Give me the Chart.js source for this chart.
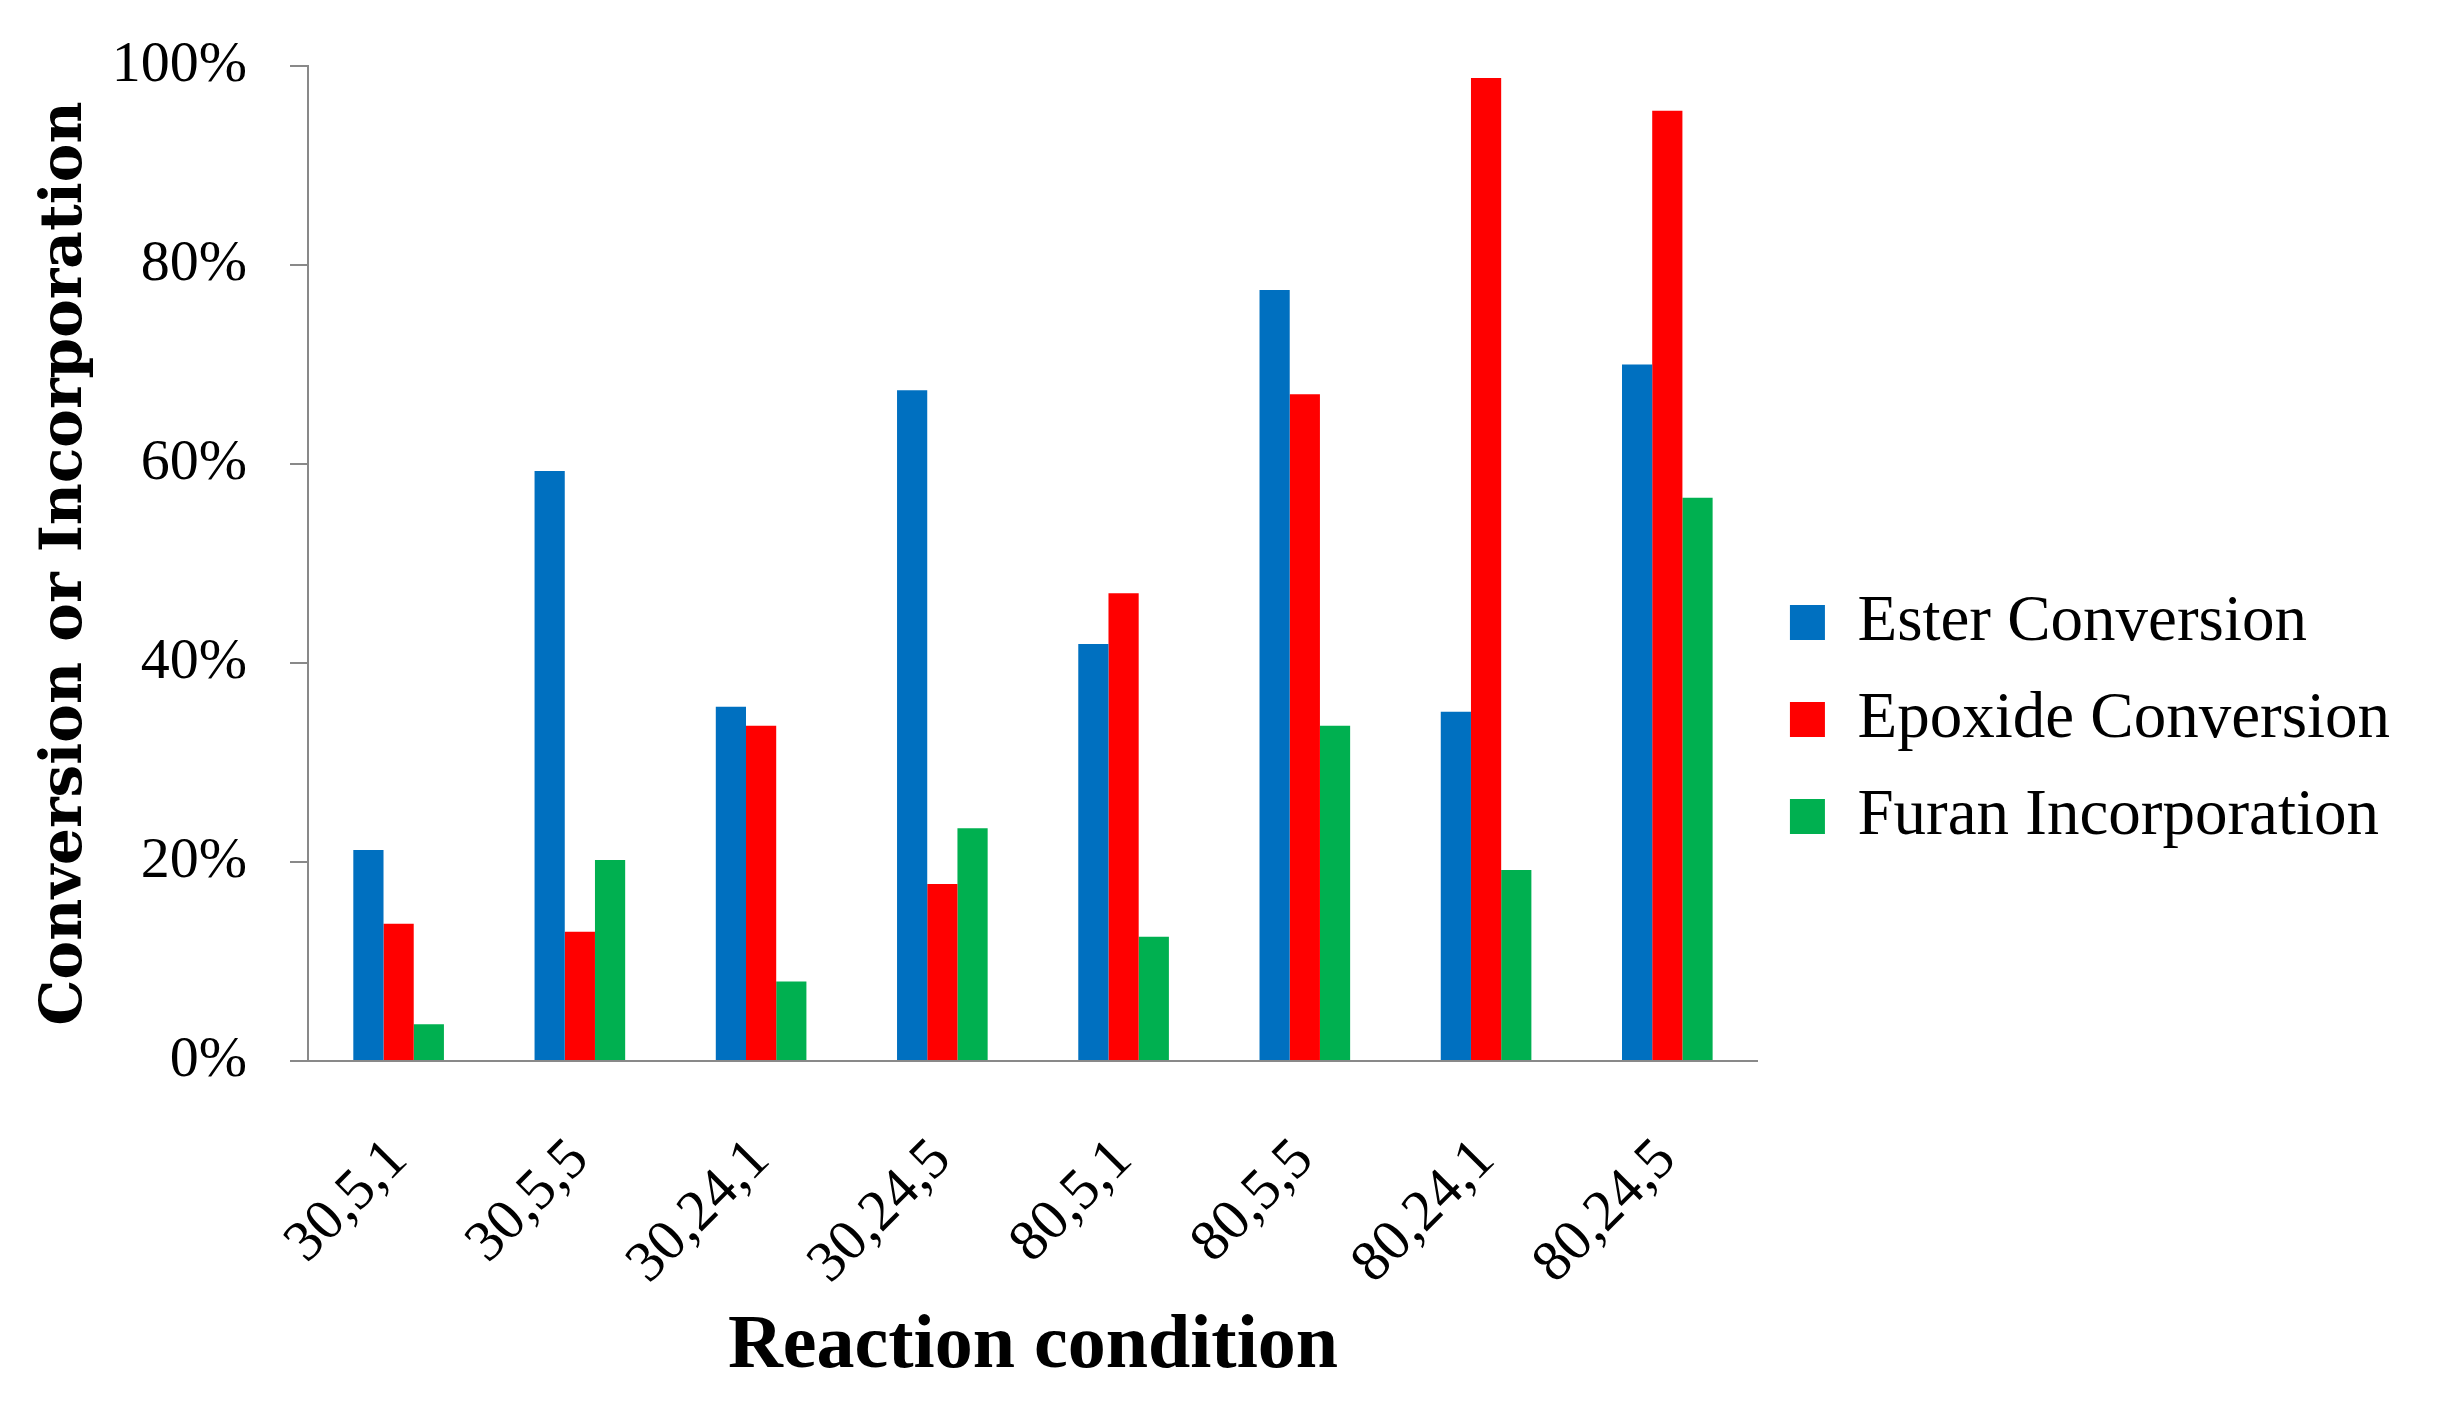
<!DOCTYPE html>
<html>
<head>
<meta charset="utf-8">
<style>
  html, body { margin: 0; padding: 0; background: #fff; }
  #wrap { width: 2442px; height: 1406px; }
</style>
<script src="https://cdn.jsdelivr.net/npm/chart.js@4.4.0/dist/chart.umd.min.js"></script>
</head>
<body>
<div id="wrap"><canvas id="myBarChart" width="2442" height="1406"></canvas></div>
<script>
var conditions = ['30,5,1', '30,5,5', '30,24,1', '30,24,5', '80,5,1', '80,5,5', '80,24,1', '80,24,5'];
var esterConversion = [21.2, 59.3, 35.6, 67.4, 41.9, 77.5, 35.1, 70.0];
var epoxideConversion = [13.8, 13.0, 33.7, 17.8, 47.0, 67.0, 98.8, 95.5];
var furanIncorporation = [3.7, 20.2, 8.0, 23.4, 12.5, 33.7, 19.2, 56.6];
var seriesNames = ['Ester Conversion', 'Epoxide Conversion', 'Furan Incorporation'];
var yTicks = [0, 20, 40, 60, 80, 100];

var axisGray = '#898989';

function createBarChart() {
    var ctx = document.getElementById('myBarChart').getContext('2d');

    var myBarChart = new Chart(ctx, {
        type: 'bar',
        data: {
            labels: conditions,
            datasets: [
                { label: seriesNames[0], data: esterConversion, backgroundColor: '#0070C0' },
                { label: seriesNames[1], data: epoxideConversion, backgroundColor: '#FF0000' },
                { label: seriesNames[2], data: furanIncorporation, backgroundColor: '#00B050' },
            ],
        },
        options: {
            responsive: false,
            animation: false,
            devicePixelRatio: 1,
            layout: { padding: { top: 66, right: 42, bottom: 33, left: 0 } },
            datasets: {
                bar: { barPercentage: 1.0, categoryPercentage: 0.5, borderWidth: 0 }
            },
            plugins: {
                tooltip: { enabled: false },
                legend: {
                    position: 'right',
                    align: 'center',
                    maxWidth: 800,  // default cap is a quarter of the canvas, too narrow here
                    labels: {
                        boxWidth: 35,
                        boxHeight: 35,
                        padding: 32,
                        color: '#000',
                        font: { family: '"Liberation Serif", serif', size: 65 }
                    }
                }
            },
            scales: {
                x: {
                    grid: { display: false },
                    border: { display: true, color: axisGray, width: 2 },
                    ticks: {
                        color: '#000',
                        minRotation: 45,
                        maxRotation: 45,
                        padding: 57,
                        font: { family: '"Liberation Serif", serif', size: 58 }
                    },
                    title: {
                        display: true,
                        text: 'Reaction condition',
                        color: '#000',
                        padding: { top: 0, bottom: -20 },
                        font: { family: '"Liberation Serif", serif', size: 76, weight: 'bold' }
                    },
                    afterFit: function (scale) { scale.height = 312; }
                },
                y: {
                    min: 0,
                    max: 100,
                    afterBuildTicks: function (scale) {
                        scale.ticks = yTicks.map(function (v) { return { value: v }; });
                    },
                    grid: {
                        drawOnChartArea: false,
                        drawTicks: true,
                        tickLength: 18,
                        tickColor: axisGray,
                        lineWidth: 2
                    },
                    border: { display: true, color: axisGray, width: 2 },
                    ticks: {
                        color: '#000',
                        padding: 43,
                        callback: function (v) { return v + '%'; },
                        font: { family: '"Liberation Serif", serif', size: 58 }
                    },
                    title: {
                        display: true,
                        text: 'Conversion or Incorporation',
                        color: '#000',
                        padding: { top: 31, bottom: 0 },
                        font: { family: '"DejaVu Serif", serif', size: 58, weight: 'bold' }
                    },
                    afterFit: function (scale) {
                        scale.width = 308;
                        // labels only need half their height above/below the axis ends
                        scale.paddingTop = 35;
                        scale.paddingBottom = 35;
                    }
                }
            }
        }
    });
    return myBarChart;
}

// make sure the fonts are there before Chart.js measures the legend text
var fontLoads = [
    document.fonts.load('65px "Liberation Serif"'),
    document.fonts.load('bold 76px "Liberation Serif"'),
    document.fonts.load('bold 58px "DejaVu Serif"')
];
Promise.all(fontLoads).then(createBarChart, createBarChart);
</script>
</body>
</html>
